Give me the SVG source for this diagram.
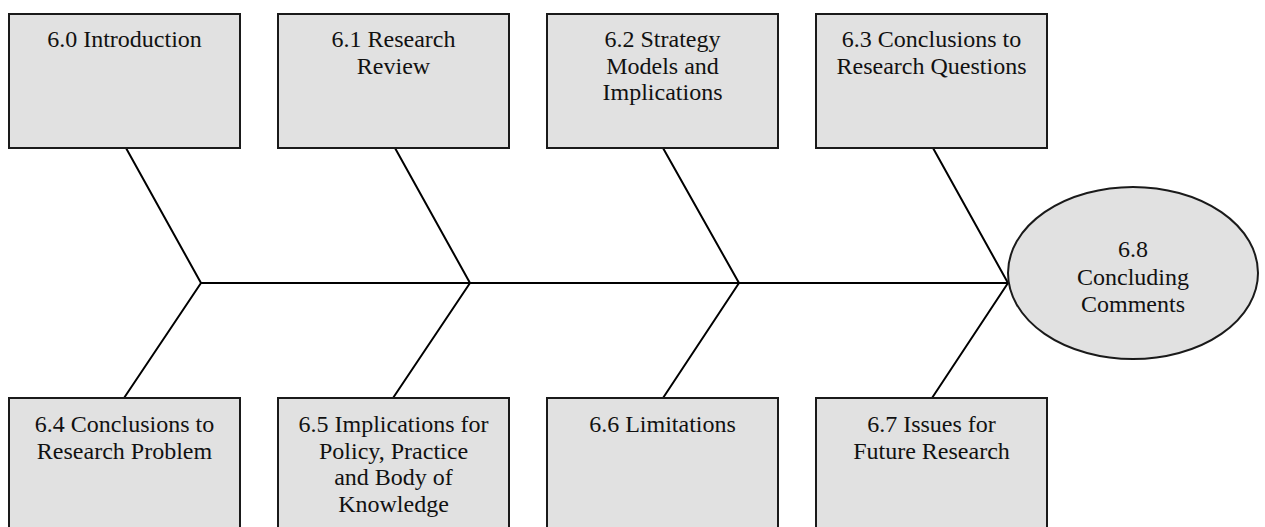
<svg xmlns="http://www.w3.org/2000/svg" width="1265" height="527" viewBox="0 0 1265 527">
  <style>
    .box { fill: #e1e1e1; stroke: #1a1a1a; stroke-width: 2; }
    .lbl { font-family: "Liberation Serif", "Times New Roman", serif; font-size: 24px; fill: #111; text-anchor: middle; }
    .bone { stroke: #000; stroke-width: 2; fill: none; stroke-linecap: round; }
  </style>
  <rect width="1265" height="527" fill="#ffffff"/>

  <!-- spine and ribs -->
  <g id="connectors">
    <line class="bone" x1="201" y1="283" x2="1008" y2="283"/>
    <line class="bone" x1="126" y1="148" x2="201" y2="283"/>
    <line class="bone" x1="124" y1="398" x2="201" y2="283"/>
    <line class="bone" x1="395" y1="148" x2="470" y2="283"/>
    <line class="bone" x1="393" y1="398" x2="470" y2="283"/>
    <line class="bone" x1="663" y1="148" x2="739" y2="283"/>
    <line class="bone" x1="663" y1="398" x2="739" y2="283"/>
    <line class="bone" x1="933" y1="148" x2="1008" y2="283"/>
    <line class="bone" x1="932" y1="398" x2="1008" y2="283"/>
  </g>

  <!-- upper row -->
  <g id="n60">
    <rect class="box" x="9" y="14" width="231" height="134"/>
    <text class="lbl" x="124.5" y="47">6.0 Introduction</text>
  </g>
  <g id="n61">
    <rect class="box" x="278" y="14" width="231" height="134"/>
    <text class="lbl" x="393.5" y="47">6.1 Research</text>
    <text class="lbl" x="393.5" y="74">Review</text>
  </g>
  <g id="n62">
    <rect class="box" x="547" y="14" width="231" height="134"/>
    <text class="lbl" x="662.5" y="47">6.2 Strategy</text>
    <text class="lbl" x="662.5" y="74">Models and</text>
    <text class="lbl" x="662.5" y="100">Implications</text>
  </g>
  <g id="n63">
    <rect class="box" x="816" y="14" width="231" height="134"/>
    <text class="lbl" x="931.5" y="47">6.3 Conclusions to</text>
    <text class="lbl" x="931.5" y="74">Research Questions</text>
  </g>

  <!-- lower row (extends past the bottom edge) -->
  <g id="n64">
    <rect class="box" x="9" y="398" width="231" height="140"/>
    <text class="lbl" x="124.5" y="432">6.4 Conclusions to</text>
    <text class="lbl" x="124.5" y="459">Research Problem</text>
  </g>
  <g id="n65">
    <rect class="box" x="278" y="398" width="231" height="140"/>
    <text class="lbl" x="393.5" y="432">6.5 Implications for</text>
    <text class="lbl" x="393.5" y="459">Policy, Practice</text>
    <text class="lbl" x="393.5" y="485">and Body of</text>
    <text class="lbl" x="393.5" y="512">Knowledge</text>
  </g>
  <g id="n66">
    <rect class="box" x="547" y="398" width="231" height="140"/>
    <text class="lbl" x="662.5" y="432">6.6 Limitations</text>
  </g>
  <g id="n67">
    <rect class="box" x="816" y="398" width="231" height="140"/>
    <text class="lbl" x="931.5" y="432">6.7 Issues for</text>
    <text class="lbl" x="931.5" y="459">Future Research</text>
  </g>

  <!-- head -->
  <g id="n68">
    <ellipse class="box" cx="1133" cy="273" rx="125" ry="86"/>
    <text class="lbl" x="1133" y="257">6.8</text>
    <text class="lbl" x="1133" y="285">Concluding</text>
    <text class="lbl" x="1133" y="312">Comments</text>
  </g>
</svg>
